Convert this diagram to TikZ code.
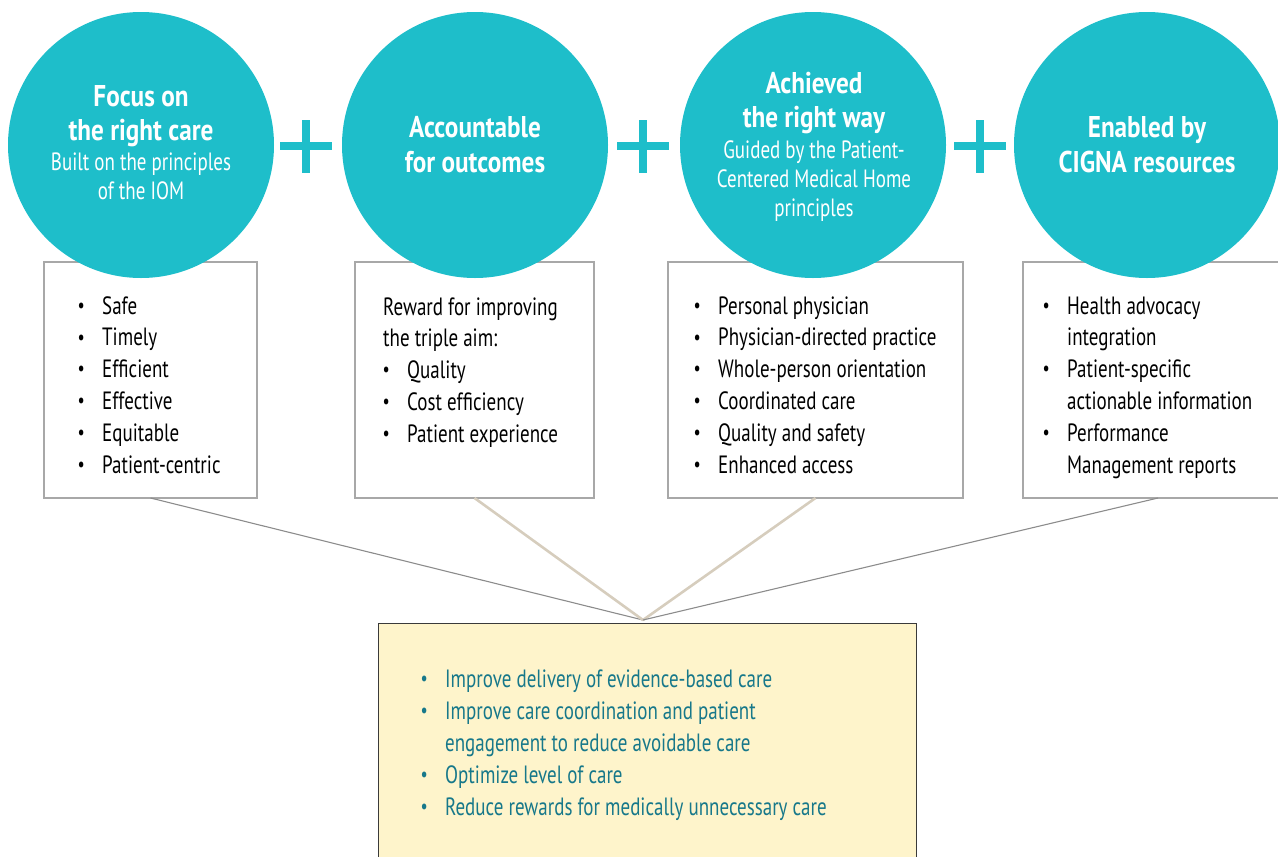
\documentclass[tikz,border=0pt]{standalone}
\usepackage{fontspec}
\setmainfont{PT Sans}[FakeStretch=0.76, BoldFeatures={FakeStretch=0.84}]
\definecolor{cigteal}{HTML}{1EBECA}
\definecolor{boxgray}{HTML}{A8A8A8}
\definecolor{linkgray}{HTML}{8C8C8C}
\definecolor{linkbeige}{HTML}{D6CDBD}
\definecolor{goalfill}{HTML}{FEF4CB}
\definecolor{goalline}{HTML}{3A3A3A}
\definecolor{goaltext}{HTML}{17788A}
\newcommand\mybul{\llap{\makebox[0pt]{\raisebox{1.8pt}{\fontsize{21}{21}\selectfont\textbullet}}\hspace{21pt}}}
\tikzset{
  infobox/.style={draw=boxgray, line width=1.3pt, fill=white, inner sep=0pt, outer sep=0pt, anchor=north west, minimum height=236pt},
  disc/.style={circle, fill=cigteal, minimum size=266pt, inner sep=0pt},
  graylink/.style={draw=linkgray, line width=1.1pt},
  beigelink/.style={draw=linkbeige, line width=2.6pt},
  goalbox/.style={draw=goalline, line width=1.3pt, fill=goalfill, inner sep=0pt, anchor=north west},
  boxtxt/.style={font=\fontsize{25}{30}\selectfont, inner sep=0pt, anchor=base west, text=black},
  goaltxt/.style={boxtxt, text=goaltext},
  ctitle/.style={font=\bfseries\fontsize{30}{30}\selectfont, text=white, inner sep=0pt, anchor=base},
  csub/.style={font=\fontsize{25}{25}\selectfont, text=white, inner sep=0pt, anchor=base},
}
\begin{document}
\begin{tikzpicture}[x=1pt,y=-1pt]
\useasboundingbox (0,0) rectangle (1278,857);
% boxes
\node[infobox, minimum width=213pt] (box1) at (44,262) {};
\node[infobox, minimum width=239pt] (box2) at (355,262) {};
\node[infobox, minimum width=295pt] (box3) at (668,262) {};
\node[infobox, minimum width=270pt] (box4) at (1023,262) {};
% circles
\node[disc] (c1) at (141,145) {};
\node[disc] (c2) at (475,145) {};
\node[disc] (c3) at (813,145) {};
\node[disc] (c4) at (1147,145) {};
% plus signs
\foreach \px in {306,643,980}{
  \fill[cigteal] (\px-26,142) rectangle (\px+26,150);
  \fill[cigteal] (\px-4,119.5) rectangle (\px+4,172.5);
}
% connectors
\coordinate (apex) at (643,620);
\draw[graylink] (box1.south) -- (apex);
\draw[beigelink] (box2.south) -- (apex);
\draw[beigelink] (box3.south) -- (apex);
\draw[graylink] (box4.south) -- (apex);
% goal box
\node[goalbox, minimum width=538pt, minimum height=260pt] (goal) at (378,623) {};
% circle texts
\node[ctitle] (c1a) at (141,106) {Focus on};
\node[ctitle] (c1b) at (141,140) {the right care};
\node[csub] (c1c) at (141,170) {Built on the principles};
\node[csub] (c1d) at (141,199) {of the IOM};
\node[ctitle] (c2a) at (475,137) {Accountable};
\node[ctitle] (c2b) at (475,172) {for outcomes};
\node[ctitle] (c3a) at (814,93) {Achieved};
\node[ctitle] (c3b) at (814,127) {the right way};
\node[csub] (c3c) at (814,158) {Guided by the Patient-};
\node[csub] (c3d) at (814,187) {Centered Medical Home};
\node[csub] (c3e) at (814,216) {principles};
\node[ctitle] (c4a) at (1147,137) {Enabled by};
\node[ctitle] (c4b) at (1147,172) {CIGNA resources};
% box 1
\foreach \t [count=\i] in {Safe,Timely,Efficient,Effective,Equitable,Patient-centric}
  \node[boxtxt] (b1-\i) at (102,{314+31.8*(\i-1)}) {\mybul\t};
% box 2
\node[boxtxt] (b2-1) at (383,315) {Reward for improving};
\node[boxtxt] (b2-2) at (383,346.8) {the triple aim:};
\foreach \t [count=\i] in {Quality,Cost efficiency,Patient experience}
  \node[boxtxt] (b2-x\i) at (407,{378.6+31.8*(\i-1)}) {\mybul\t};
% box 3
\foreach \t [count=\i] in {Personal physician,Physician-directed practice,Whole-person orientation,Coordinated care,Quality and safety,Enhanced access}
  \node[boxtxt] (b3-\i) at (718,{314+31.8*(\i-1)}) {\mybul\t};
% box 4
\node[boxtxt] (b4-1) at (1067,314) {\mybul Health advocacy};
\node[boxtxt] (b4-2) at (1067,345.8) {integration};
\node[boxtxt] (b4-3) at (1067,377.6) {\mybul Patient-specific};
\node[boxtxt] (b4-4) at (1067,409.4) {actionable information};
\node[boxtxt] (b4-5) at (1067,441.2) {\mybul Performance};
\node[boxtxt] (b4-6) at (1067,473) {Management reports};
% goal texts
\node[goaltxt] (g1) at (445,687) {\mybul Improve delivery of evidence-based care};
\node[goaltxt] (g2) at (445,719) {\mybul Improve care coordination and patient};
\node[goaltxt] (g3) at (445,751) {engagement to reduce avoidable care};
\node[goaltxt] (g4) at (445,783) {\mybul Optimize level of care};
\node[goaltxt] (g5) at (445,815) {\mybul Reduce rewards for medically unnecessary care};
\end{tikzpicture}
\end{document}
